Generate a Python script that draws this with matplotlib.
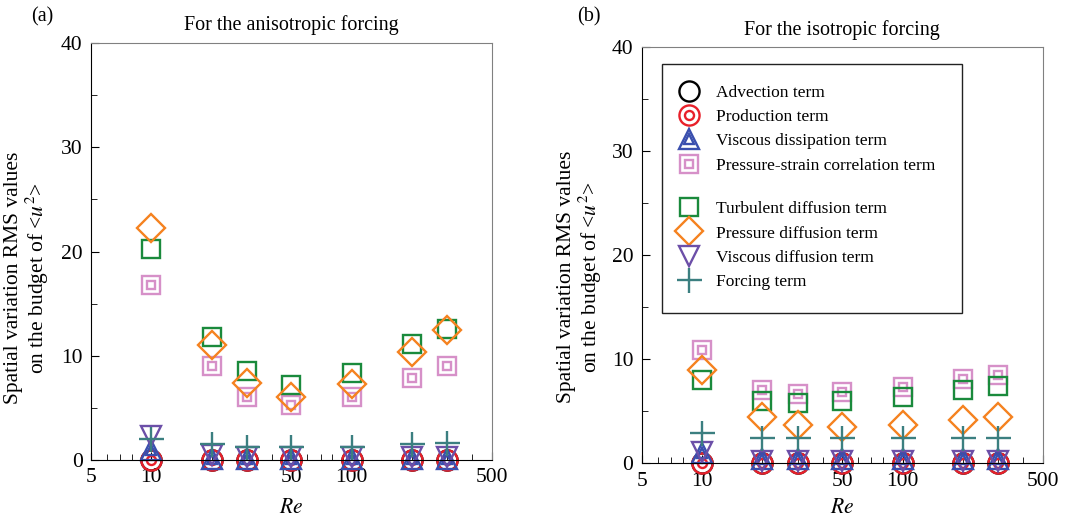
import matplotlib.pyplot as plt
import numpy as np
from matplotlib.patches import Rectangle
from matplotlib.ticker import FixedLocator, NullFormatter

plt.rcParams['font.family'] = ['Liberation Serif', 'DejaVu Serif']
plt.rcParams['mathtext.fontset'] = 'stix'

# Reynolds numbers
re = [10, 20, 30, 50, 100, 200, 300]

# (a) anisotropic forcing
a_advection = [0.0, 0.0, 0.0, 0.0, 0.0, 0.0, 0.0]
a_production = [0.0, 0.0, 0.0, 0.0, 0.0, 0.0, 0.0]
a_visc_dissip = [1.0, 0.1, 0.1, 0.1, 0.1, 0.1, 0.1]
a_press_strain = [16.8, 9.0, 6.1, 5.3, 6.1, 7.9, 9.0]
a_turb_diff = [20.2, 11.8, 8.5, 7.2, 8.4, 11.1, 12.6]
a_press_diff = [22.3, 11.0, 7.4, 6.1, 7.3, 10.4, 12.5]
a_visc_diff = [2.3, 0.5, 0.3, 0.3, 0.3, 0.3, 0.3]
a_forcing = [2.0, 1.5, 1.3, 1.3, 1.3, 1.5, 1.6]

# (b) isotropic forcing
b_advection = [0.0, 0.0, 0.0, 0.0, 0.0, 0.0, 0.0]
b_production = [0.0, 0.0, 0.0, 0.0, 0.0, 0.0, 0.0]
b_visc_dissip = [1.0, 0.4, 0.4, 0.4, 0.4, 0.4, 0.4]
b_press_strain = [10.9, 7.0, 6.7, 6.8, 7.3, 8.1, 8.5]
b_turb_diff = [8.0, 6.0, 5.8, 6.0, 6.4, 7.0, 7.4]
b_press_diff = [9.0, 4.4, 3.7, 3.5, 3.7, 4.2, 4.4]
b_visc_diff = [1.1, 0.2, 0.2, 0.2, 0.2, 0.2, 0.2]
b_forcing = [2.9, 2.4, 2.4, 2.4, 2.4, 2.4, 2.4]

labels = ['Advection term', 'Production term', 'Viscous dissipation term',
          'Pressure-strain correlation term', 'Turbulent diffusion term',
          'Pressure diffusion term', 'Viscous diffusion term', 'Forcing term']

c_black = '#000000'
c_red = '#e8202a'
c_blue = '#3a4fae'
c_pink = '#d690c8'
c_green = '#1a8a3c'
c_orange = '#f5821f'
c_purple = '#6c4fa8'
c_teal = '#3b7f80'

lw = 1.7


def mk(ax, y, marker, color, ms):
    h, = ax.plot(re, y, linestyle='none', marker=marker, ms=ms, mfc='none',
                 mec=color, mew=lw, clip_on=False)
    return h


def draw(ax, data):
    adv, prod, vdis, pstr, tdif, pdif, vdif, forc = data
    h = []
    h.append(mk(ax, adv, 'o', c_black, 14.5))
    h.append((mk(ax, prod, 'o', c_red, 14.5), mk(ax, prod, 'o', c_red, 6.5)))
    h.append((mk(ax, vdis, '^', c_blue, 14.5), mk(ax, vdis, '^', c_blue, 6.5)))
    h.append((mk(ax, pstr, 's', c_pink, 13.5), mk(ax, pstr, 's', c_pink, 6)))
    h.append(mk(ax, tdif, 's', c_green, 13.5))
    h.append(mk(ax, pdif, 'D', c_orange, 14.5))
    h.append(mk(ax, vdif, 'v', c_purple, 14.5))
    h.append(mk(ax, forc, '+', c_teal, 18))

    ax.set_xscale('log')
    ax.set_xlim(5, 500)
    ax.set_ylim(0, 40)
    ax.xaxis.set_major_locator(FixedLocator([5, 10, 50, 100, 500]))
    ax.xaxis.set_major_formatter(plt.FixedFormatter(['5', '10', '50', '100', '500']))
    ax.xaxis.set_minor_locator(FixedLocator([6, 7, 8, 9, 20, 30, 40, 60, 70, 80, 90,
                                             200, 300, 400]))
    ax.xaxis.set_minor_formatter(NullFormatter())
    ax.set_yticks([0, 10, 20, 30, 40])
    ax.set_yticks([5, 15, 25, 35], minor=True)
    ax.tick_params(which='both', direction='in', top=False, right=False,
                   labelsize=15.5, pad=6)
    ax.tick_params(which='major', length=6)
    ax.tick_params(which='minor', length=4)
    for s in ['top', 'right']:
        ax.spines[s].set_color('#808080')
    ax.set_xlabel('$Re$', fontsize=15.5)
    ax.set_ylabel('Spatial variation RMS values\non the budget of <$u^2$>',
                  fontsize=15.5, linespacing=1.05)
    return h


fig = plt.figure(figsize=(10.86, 5.17), dpi=100)
ax1 = fig.add_axes([0.0838, 0.110, 0.369, 0.807])
ax2 = fig.add_axes([0.591, 0.104, 0.369, 0.805])

draw(ax1, [a_advection, a_production, a_visc_dissip, a_press_strain,
           a_turb_diff, a_press_diff, a_visc_diff, a_forcing])
handles = draw(ax2, [b_advection, b_production, b_visc_dissip, b_press_strain,
                     b_turb_diff, b_press_diff, b_visc_diff, b_forcing])
ax1.xaxis.set_label_coords(0.5, -0.094)
ax2.xaxis.set_label_coords(0.5, -0.087)
ax1.yaxis.set_label_coords(-0.1, 0.437)
ax2.yaxis.set_label_coords(-0.095, 0.447)

ax1.set_title('For the anisotropic forcing', fontsize=14.5, pad=9)
ax2.set_title('For the isotropic forcing', fontsize=14.5, pad=9)
fig.text(0.039, 0.968, '(a)', fontsize=14.5, va='center', ha='center')
fig.text(0.542, 0.968, '(b)', fontsize=14.5, va='center', ha='center')

leg_kw = dict(loc='upper left', frameon=False, fontsize=12.5, borderpad=0,
              borderaxespad=0, handlelength=1.5, handletextpad=0.8,
              labelspacing=0.47)
leg1 = ax2.legend(handles[:4], labels[:4], bbox_to_anchor=(0.085, 0.91), **leg_kw)
ax2.add_artist(leg1)
ax2.legend(handles[4:], labels[4:], bbox_to_anchor=(0.085, 0.63), **leg_kw)
ax2.add_patch(Rectangle((0.05, 0.361), 0.748, 0.598, transform=ax2.transAxes,
                        fill=False, edgecolor='#222222', lw=1.0))

fig.savefig('out.png', dpi=100)
